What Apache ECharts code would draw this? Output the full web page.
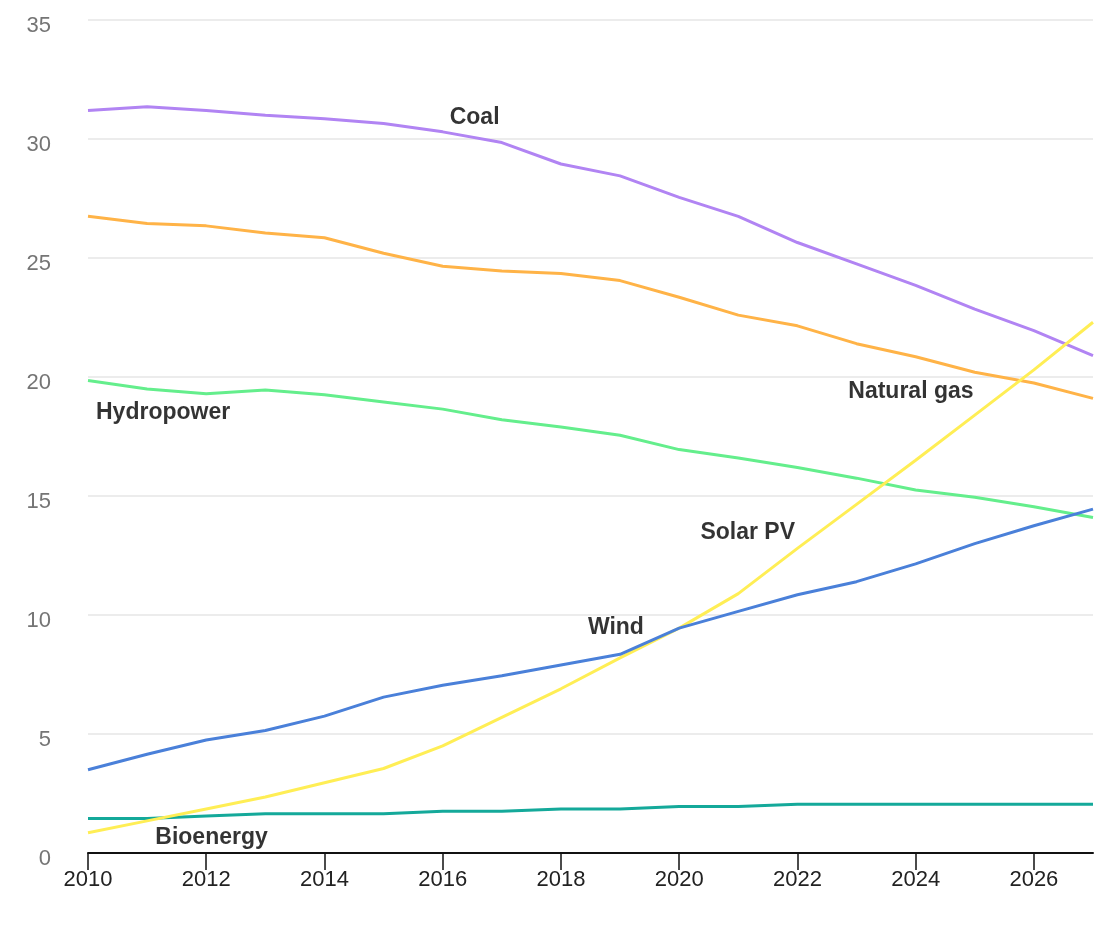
<!DOCTYPE html>
<html>
<head>
<meta charset="utf-8">
<script src="https://cdn.jsdelivr.net/npm/echarts@6/dist/echarts.min.js"></script>
<style>
    html, body { margin: 0; padding: 0; background: #fff; }
    #chart { width: 1097px; height: 926px; }
</style>
</head>
<body>
<div id="chart"></div>
<script>
const years = ['2010', '2011', '2012', '2013', '2014', '2015', '2016', '2017', '2018',
    '2019', '2020', '2021', '2022', '2023', '2024', '2025', '2026', '2027']
const coal = [31.2, 31.35, 31.2, 31.0, 30.85, 30.65, 30.3, 29.85, 28.95, 28.45, 27.55, 26.75, 25.65, 24.75, 23.85, 22.85, 21.95, 20.9]
const naturalGas = [26.75, 26.45, 26.35, 26.05, 25.85, 25.2, 24.65, 24.45, 24.35, 24.05, 23.35, 22.6, 22.15, 21.4, 20.85, 20.2, 19.75, 19.1]
const hydropower = [19.85, 19.5, 19.3, 19.45, 19.25, 18.95, 18.65, 18.2, 17.9, 17.55, 16.95, 16.6, 16.2, 15.75, 15.25, 14.95, 14.55, 14.1]
const solarPV = [0.85, 1.35, 1.85, 2.35, 2.95, 3.55, 4.5, 5.7, 6.9, 8.2, 9.45, 10.9, 12.8, 14.65, 16.5, 18.4, 20.3, 22.3]
const wind = [3.5, 4.15, 4.75, 5.15, 5.75, 6.55, 7.05, 7.45, 7.9, 8.35, 9.45, 10.15, 10.85, 11.4, 12.15, 13.0, 13.75, 14.45]
const bioenergy = [1.45, 1.45, 1.55, 1.65, 1.65, 1.65, 1.75, 1.75, 1.85, 1.85, 1.95, 1.95, 2.05, 2.05, 2.05, 2.05, 2.05, 2.05]

// series name labels: [year, value, text]
const seriesLabels = [
    [2016.54, 30.88, 'Coal'],
    [2023.92, 19.37, 'Natural gas'],
    [2011.27, 18.49, 'Hydropower'],
    [2021.16, 13.45, 'Solar PV'],
    [2018.93, 9.45, 'Wind'],
    [2012.09, 0.63, 'Bioenergy']
]

const font = '"Liberation Sans", Arial, sans-serif'

function lineSeries(name, data, color) {
    return {
        name: name,
        type: 'line',
        data: data,
        showSymbol: false,
        symbol: 'none',
        lineStyle: { color: color, width: 3 },
        itemStyle: { color: color },
        emphasis: { disabled: true }
    }
}

const chart = echarts.init(document.getElementById('chart'))
chart.setOption({
    animation: false,
    textStyle: { fontFamily: font },
    grid: { left: 88, right: 4, top: 20, bottom: 73, containLabel: false },
    xAxis: [{
        type: 'category',
        data: years,
        boundaryGap: false,
        axisLine: { lineStyle: { color: '#111', width: 2 } },
        axisTick: { interval: 1, length: 17, lineStyle: { color: '#111', width: 1.5 } },
        axisLabel: { interval: 1, color: '#222', fontSize: 22, margin: 16, fontFamily: font },
        splitLine: { show: false }
    }, {
        type: 'value',
        min: 2010,
        max: 2027,
        show: false
    }],
    yAxis: {
        type: 'value',
        min: 0,
        max: 35,
        interval: 5,
        axisLine: { show: false },
        axisTick: { show: false },
        axisLabel: {
            color: '#757575', fontSize: 22, margin: 37,
            verticalAlign: 'top', lineHeight: 12, fontFamily: font
        },
        splitLine: { lineStyle: { color: '#e6e6e6', width: 1.5 } }
    },
    series: [
        lineSeries('Bioenergy', bioenergy, '#14a99a'),
        lineSeries('Hydropower', hydropower, '#64ee8c'),
        lineSeries('Coal', coal, '#b184f3'),
        lineSeries('Natural gas', naturalGas, '#ffb347'),
        lineSeries('Solar PV', solarPV, '#ffee55'),
        lineSeries('Wind', wind, '#4a80d9'),
        {
            name: 'labels',
            type: 'scatter',
            xAxisIndex: 1,
            yAxisIndex: 0,
            data: seriesLabels,
            symbolSize: 1,
            itemStyle: { color: 'rgba(0,0,0,0)' },
            label: {
                show: true,
                position: 'inside',
                formatter: p => p.value[2],
                color: '#000',
                fontSize: 23,
                fontWeight: 'bold',
                fontFamily: font
            },
            emphasis: { disabled: true },
            silent: true,
            z: 10
        }
    ]
})
</script>
</body>
</html>
